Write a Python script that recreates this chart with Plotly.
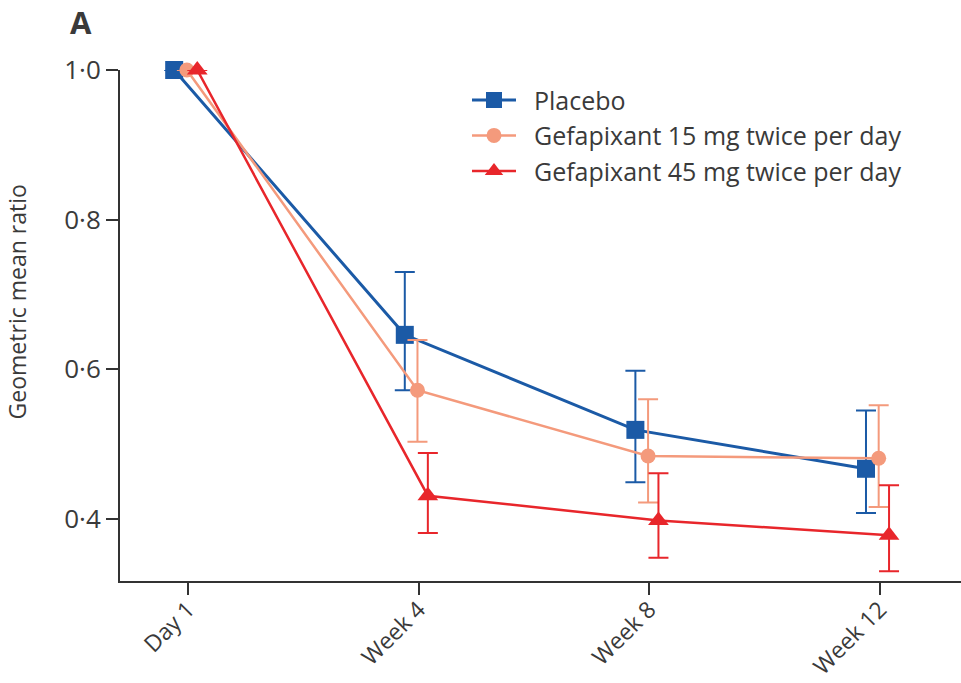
import plotly.graph_objects as go

categories = ["Day 1", "Week 4", "Week 8", "Week 12"]
series_names = ["Placebo", "Gefapixant 15 mg twice per day", "Gefapixant 45 mg twice per day"]

placebo = [1.0, 0.646, 0.519, 0.467]
placebo_hi = [1.0, 0.730, 0.598, 0.545]
placebo_lo = [1.0, 0.572, 0.449, 0.408]

g15 = [1.0, 0.572, 0.484, 0.481]
g15_hi = [1.0, 0.639, 0.560, 0.552]
g15_lo = [1.0, 0.503, 0.422, 0.416]

g45 = [1.0, 0.431, 0.398, 0.378]
g45_hi = [1.0, 0.488, 0.461, 0.445]
g45_lo = [1.0, 0.381, 0.348, 0.330]

ytick_vals = [0.4, 0.6, 0.8, 1.0]
ytick_text = ["0·4", "0·6", "0·8", "1·0"]

colors = ["#1b5aa6", "#f49a7c", "#e8262b"]
symbols = ["square", "circle", "triangle-up"]
sizes = [18, 15, 18]
widths = [3, 2.5, 2.5]
dodge = [-0.06, -0.005, 0.04]

FONT = "Open Sans"
TXT = "#3a3a3a"
PAD = "\u00a0\u00a0"

fig = go.Figure()
data = [(placebo, placebo_hi, placebo_lo), (g15, g15_hi, g15_lo), (g45, g45_hi, g45_lo)]
for i, (vals, hi, lo) in enumerate(data):
    xs = [k + dodge[i] for k in range(len(categories))]
    plus = [h - v for h, v in zip(hi, vals)]
    minus = [v - l for v, l in zip(vals, lo)]
    fig.add_trace(go.Scatter(
        x=xs, y=vals, name=PAD + series_names[i], mode="lines+markers",
        legendgroup=str(i),
        line=dict(color=colors[i], width=widths[i]),
        marker=dict(symbol=symbols[i], size=sizes[i], color=colors[i]),
        error_y=dict(type="data", symmetric=False, array=plus, arrayminus=minus,
                     color=colors[i], thickness=2, width=10),
        cliponaxis=False,
    ))

fig.update_layout(
    width=961, height=683,
    margin=dict(l=120, r=0, t=70, b=102),
    plot_bgcolor="white", paper_bgcolor="white",
    font=dict(family=FONT, size=25, color=TXT),
    showlegend=True,
    legend=dict(x=0.4126, y=0.986, xanchor="left", yanchor="top",
                font=dict(family=FONT, size=25, color=TXT),
                bgcolor="rgba(0,0,0,0)", tracegroupgap=0, itemwidth=44),
    xaxis=dict(
        range=[-0.295, 3.352], tickmode="array",
        tickvals=list(range(len(categories))), ticktext=categories,
        tickangle=-45, showgrid=False, zeroline=False, automargin=False,
        showline=True, linecolor="#333333", linewidth=2,
        ticks="outside", ticklen=12, tickwidth=2, tickcolor="#333333",
        ticklabelstandoff=-8,
        tickfont=dict(family=FONT, size=23, color=TXT),
    ),
    yaxis=dict(
        range=[0.317, 1.0], tickmode="array", tickvals=ytick_vals, ticktext=ytick_text,
        showgrid=False, zeroline=False, automargin=False,
        showline=True, linecolor="#333333", linewidth=2,
        ticks="outside", ticklen=12, tickwidth=2, tickcolor="#333333",
        tickfont=dict(family=FONT, size=26, color=TXT),
    ),
    annotations=[
        dict(text="Geometric mean ratio", xref="paper", yref="paper",
             x=-0.122, y=0.546, textangle=-90, showarrow=False,
             xanchor="center", yanchor="middle",
             font=dict(family=FONT, size=23, color=TXT)),
        dict(text="<b>A</b>", xref="paper", yref="paper",
             x=-0.046, y=1.094, showarrow=False, xanchor="center", yanchor="middle",
             font=dict(family=FONT, size=31, color=TXT)),
    ],
)

fig.write_html("out.html")
